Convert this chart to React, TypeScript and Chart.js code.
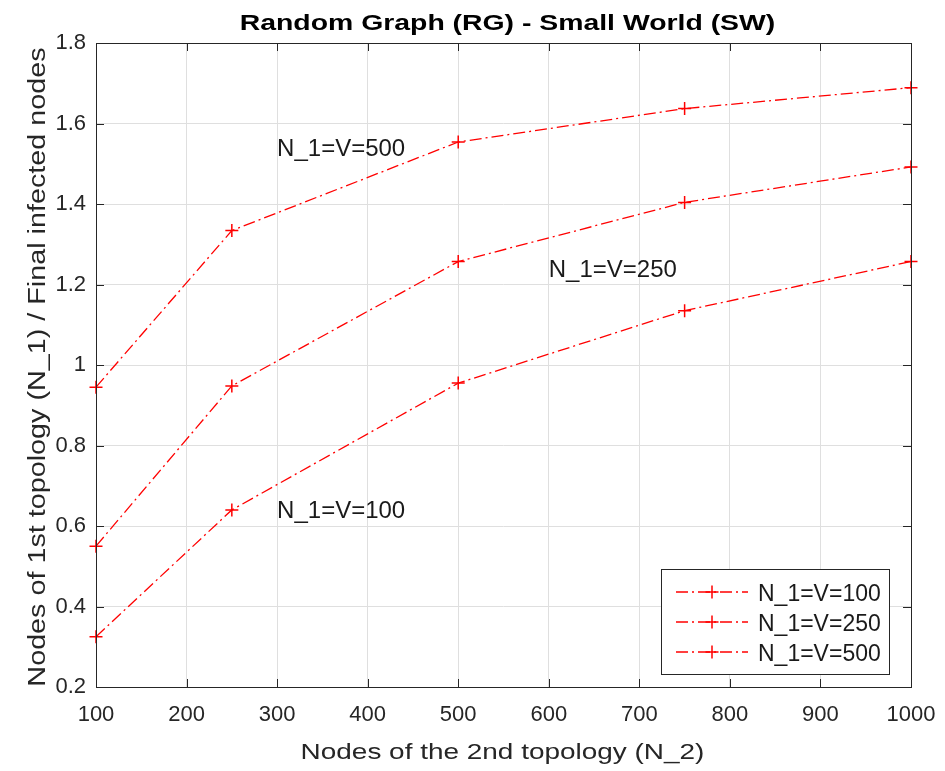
import { useEffect, useRef } from 'react';
import { Chart, registerables } from 'chart.js';

Chart.register(...registerables);

// ---- data ----
const xValues = [100, 250, 500, 750, 1000];
const series100 = [0.325, 0.64, 0.955, 1.135, 1.257];
const series250 = [0.55, 0.948, 1.257, 1.404, 1.492];
const series500 = [0.945, 1.334, 1.554, 1.637, 1.689];
const seriesLabels = ['N_1=V=100', 'N_1=V=250', 'N_1=V=500'];

const xTickValues = [100, 200, 300, 400, 500, 600, 700, 800, 900, 1000];
const yTickValues = [0.2, 0.4, 0.6, 0.8, 1, 1.2, 1.4, 1.6, 1.8];

const annotTexts = ['N_1=V=100', 'N_1=V=250', 'N_1=V=500'];
const annotX = [300, 600, 300];
const annotY = [0.64, 1.24, 1.54];

const titleText = 'Random Graph (RG) - Small World (SW)';
const xTitleText = 'Nodes of the 2nd topology (N_2)';
const yTitleText = 'Nodes of 1st topology (N_1) / Final infected nodes';

// ---- style ----
const FONT = "'Liberation Sans', Arial, Helvetica, sans-serif";
const AXIS = '#262626';
const GRID = '#dfdfdf';
const RED = '#ff0000';
const DASH = [12, 4, 2, 4];

const decorPlugin = {
  id: 'matlabDecor',
  afterDraw(chart: any) {
    const { ctx, chartArea, scales } = chart;
    const { left, right, top, bottom } = chartArea;
    const xs = scales.x;
    const ys = scales.y;
    ctx.save();

    // axes box
    ctx.strokeStyle = AXIS;
    ctx.lineWidth = 1;
    ctx.setLineDash([]);
    ctx.strokeRect(Math.round(left) + 0.5, Math.round(top) + 0.5, Math.round(right - left), Math.round(bottom - top));

    // inner ticks on all four sides
    const tl = 8;
    ctx.beginPath();
    xTickValues.forEach((v) => {
      const px = Math.round(xs.getPixelForValue(v)) + 0.5;
      ctx.moveTo(px, bottom);
      ctx.lineTo(px, bottom - tl);
      ctx.moveTo(px, top);
      ctx.lineTo(px, top + tl);
    });
    yTickValues.forEach((v) => {
      const py = Math.round(ys.getPixelForValue(v)) + 0.5;
      ctx.moveTo(left, py);
      ctx.lineTo(left + tl, py);
      ctx.moveTo(right, py);
      ctx.lineTo(right - tl, py);
    });
    ctx.stroke();

    // annotations
    ctx.fillStyle = '#1a1a1a';
    ctx.font = `24px ${FONT}`;
    ctx.textAlign = 'left';
    ctx.textBaseline = 'alphabetic';
    annotTexts.forEach((t, i) => {
      const px = xs.getPixelForValue(annotX[i]);
      const py = ys.getPixelForValue(annotY[i]);
      ctx.fillText(t, px, py + 8.5);
    });

    // legend
    const lw = 228;
    const lh = 105;
    const lx = Math.round(right - 22 - lw);
    const ly = Math.round(bottom - 13 - lh);
    ctx.fillStyle = '#ffffff';
    ctx.fillRect(lx, ly, lw, lh);
    ctx.strokeStyle = AXIS;
    ctx.lineWidth = 1;
    ctx.strokeRect(lx + 0.5, ly + 0.5, lw, lh);
    chart.data.datasets.forEach((ds: any, i: number) => {
      const cy = ly + 23 + i * 30;
      const x0 = lx + 15;
      const x1 = lx + 87;
      ctx.strokeStyle = RED;
      ctx.lineWidth = 1.3;
      ctx.setLineDash(DASH);
      ctx.beginPath();
      ctx.moveTo(x0, cy);
      ctx.lineTo(x1, cy);
      ctx.stroke();
      ctx.setLineDash([]);
      ctx.lineWidth = 1.5;
      const mx = (x0 + x1) / 2;
      ctx.beginPath();
      ctx.moveTo(mx - 6.5, cy);
      ctx.lineTo(mx + 6.5, cy);
      ctx.moveTo(mx, cy - 6.5);
      ctx.lineTo(mx, cy + 6.5);
      ctx.stroke();
      ctx.fillStyle = '#1a1a1a';
      ctx.font = `23px ${FONT}`;
      ctx.textAlign = 'left';
      ctx.textBaseline = 'alphabetic';
      ctx.fillText(ds.label, lx + 97, cy + 8.5);
    });

    // titles (MATLAB-like wide rendering)
    const cx = (left + right) / 2;
    ctx.fillStyle = '#000000';
    ctx.textAlign = 'center';
    ctx.textBaseline = 'alphabetic';

    ctx.save();
    ctx.font = `bold 22px ${FONT}`;
    ctx.translate(cx + 4, top - 13.5);
    ctx.scale(1.29, 1);
    ctx.fillText(titleText, 0, 0);
    ctx.restore();

    ctx.fillStyle = '#262626';
    ctx.save();
    ctx.font = `22px ${FONT}`;
    ctx.translate(cx - 1, bottom + 72);
    ctx.scale(1.27, 1);
    ctx.fillText(xTitleText, 0, 0);
    ctx.restore();

    ctx.save();
    ctx.font = `23px ${FONT}`;
    ctx.translate(45, (top + bottom) / 2 + 2);
    ctx.rotate(-Math.PI / 2);
    ctx.scale(1.25, 1);
    ctx.fillText(yTitleText, 0, 0);
    ctx.restore();

    ctx.restore();
  },
};

export default function App() {
  const canvasRef = useRef<HTMLCanvasElement | null>(null);

  useEffect(() => {
    document.body.style.margin = '0';
    const canvas = canvasRef.current;
    if (!canvas) return;
    const makeData = (vals: number[]) => xValues.map((x, i) => ({ x, y: vals[i] }));
    const dsStyle = {
      borderColor: RED,
      backgroundColor: RED,
      borderWidth: 1.3,
      borderDash: DASH,
      pointStyle: 'cross',
      pointRadius: 6.5,
      pointBorderWidth: 1.5,
      pointBorderColor: RED,
      tension: 0,
      fill: false,
      clip: false,
    };
    const chart = new Chart(canvas, {
      type: 'line',
      data: {
        datasets: [
          { label: seriesLabels[0], data: makeData(series100), ...dsStyle },
          { label: seriesLabels[1], data: makeData(series250), ...dsStyle },
          { label: seriesLabels[2], data: makeData(series500), ...dsStyle },
        ] as any,
      },
      options: {
        responsive: false,
        animation: false,
        events: [],
        layout: { padding: { left: 0, right: 34, top: 43, bottom: 0 } },
        plugins: {
          legend: { display: false },
          title: { display: false },
          tooltip: { enabled: false },
        },
        scales: {
          x: {
            type: 'linear',
            min: 100,
            max: 1000,
            afterBuildTicks: (scale: any) => {
              scale.ticks = xTickValues.map((v) => ({ value: v }));
            },
            afterFit: (scale: any) => {
              scale.height = 84;
              scale.paddingLeft = 0;
              scale.paddingRight = 0;
            },
            grid: { color: GRID, lineWidth: 1, drawTicks: false },
            border: { display: false },
            ticks: {
              color: AXIS,
              font: { family: FONT, size: 22 },
              padding: 15,
              maxRotation: 0,
              autoSkip: false,
              callback: (v: any) => String(v),
            },
          },
          y: {
            type: 'linear',
            min: 0.2,
            max: 1.8,
            afterBuildTicks: (scale: any) => {
              scale.ticks = yTickValues.map((v) => ({ value: v }));
            },
            afterFit: (scale: any) => {
              scale.width = 96;
              scale.paddingTop = 0;
              scale.paddingBottom = 0;
            },
            grid: { color: GRID, lineWidth: 1, drawTicks: false },
            border: { display: false },
            ticks: {
              color: AXIS,
              font: { family: FONT, size: 22 },
              padding: 10,
              autoSkip: false,
              callback: (v: any) => String(Math.round(Number(v) * 10) / 10),
            },
          },
        },
      } as any,
      plugins: [decorPlugin],
    });
    return () => chart.destroy();
  }, []);

  return <canvas ref={canvasRef} width={945} height={771} style={{ display: 'block' }} />;
}
